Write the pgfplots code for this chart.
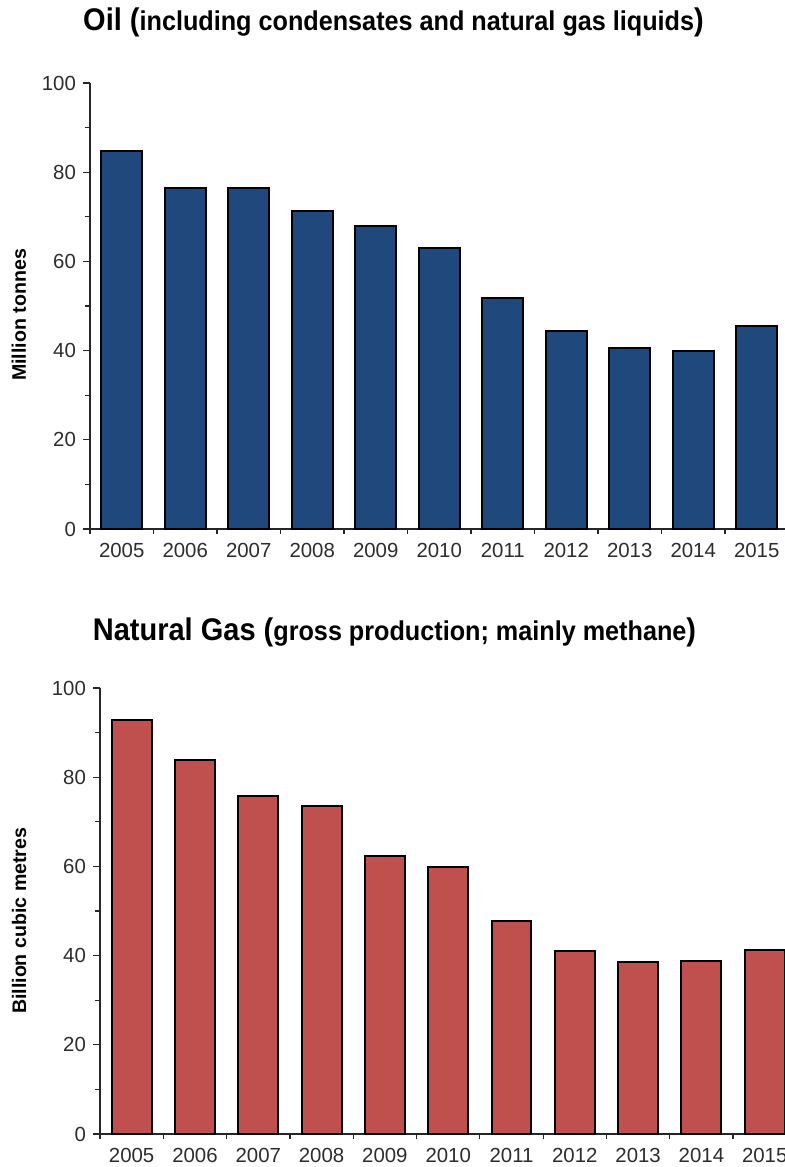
\documentclass[border=0pt]{standalone}
\usepackage{pgfplots}
\pgfplotsset{compat=1.18}
\usepackage{fontspec}
\setmainfont{Liberation Sans}
\definecolor{oilblue}{RGB}{31,73,125}
\definecolor{gasred}{RGB}{192,80,77}
\definecolor{tickgray}{RGB}{45,45,45}

\pgfplotsset{
  prodstyle/.style={
    scale only axis, height=223pt,
    axis x line*=bottom, axis y line*=left,
    axis line style={draw=black!85, line width=0.7pt},
    ybar, clip=false,
    ymin=0, ymax=100,
    ytick={0,20,...,100}, minor ytick={10,30,...,90},
    xmin=-0.5,
    xtick={0,...,10},
    xticklabels={2005,2006,2007,2008,2009,2010,2011,2012,2013,2014,2015},
    minor xtick={-0.5,0.5,...,9.5},
    tick align=outside,
    major tick length=3.5pt, minor tick length=2.5pt,
    major x tick style={draw=none},
    every tick/.style={draw=black!85, line width=0.6pt},
    tick label style={text=tickgray, font=\fontsize{10.2}{12}\selectfont},
    /pgf/number format/assume math mode=true,
    ylabel style={font=\bfseries\fontsize{9.8}{11}\selectfont, anchor=center, text=black},
  }
}

\begin{document}
\begin{tikzpicture}
\begin{axis}[prodstyle,
  at={(45pt,319pt)}, anchor=south west,
  width=347.5pt, xmax=10.445, bar width=0.645,
  ylabel={Million tonnes},
  ylabel style={at={(axis description cs:-0.1022,0.48)}},
]
\addplot[fill=oilblue, draw=black, line width=1pt] coordinates {
 (0,84.8) (1,76.5) (2,76.5) (3,71.3) (4,67.9) (5,63.0)
 (6,51.8) (7,44.4) (8,40.6) (9,39.9) (10,45.5)};
\end{axis}

\begin{axis}[prodstyle,
  at={(50pt,16.5pt)}, anchor=south west,
  width=342.5pt, xmax=10.32, bar width=0.63,
  ylabel={Billion cubic metres},
  ylabel style={at={(axis description cs:-0.1182,0.478)}},
]
\addplot[fill=gasred, draw=black, line width=1pt] coordinates {
 (0,92.9) (1,83.8) (2,75.8) (3,73.5) (4,62.3) (5,59.9)
 (6,47.7) (7,41.0) (8,38.5) (9,38.8) (10,41.3)};
\end{axis}

\node[anchor=base, inner sep=0pt] at (196.75pt,568pt)
  {\scalebox{1}[1.08]{\bfseries\fontsize{14.5}{17}\selectfont Oil (\fontsize{12.6}{15}\selectfont including condensates and natural gas liquids\fontsize{14.5}{17}\selectfont)}};
\node[anchor=base, inner sep=0pt] at (197.25pt,263pt)
  {\scalebox{1}[1.08]{\bfseries\fontsize{14.5}{17}\selectfont Natural Gas (\fontsize{12.6}{15}\selectfont gross production; mainly methane\fontsize{14.5}{17}\selectfont)}};

\pgfresetboundingbox
\path[use as bounding box] (0,0) rectangle (392.5pt,583.5pt);
\end{tikzpicture}
\end{document}
